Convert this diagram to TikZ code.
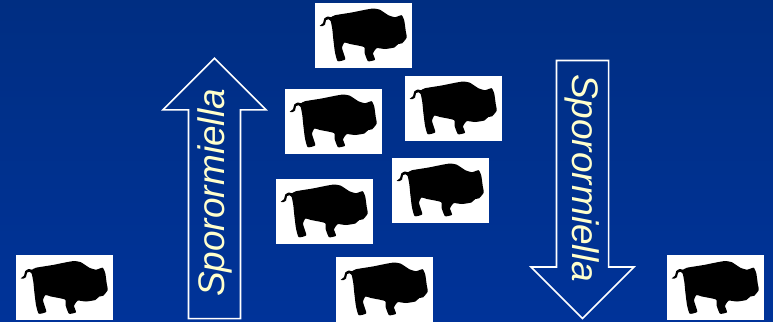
\documentclass[tikz,border=0pt]{standalone}
\usepackage{fontspec}
\setmainfont{Liberation Sans}
\usetikzlibrary{shapes.arrows}
\definecolor{panelTop}{RGB}{0,46,130}
\definecolor{panelBot}{RGB}{0,51,153}
\definecolor{creamtxt}{RGB}{255,255,204}
\newcommand{\bisonshape}{%
  \fill[black,shift={(path picture bounding box.center)}] plot[smooth cycle,tension=0.3] coordinates {
    (-43.8,-9.2) (-40.5,-11.8) (-39.2,-16.5) (-35.8,-18.5) (-32.5,-17.8) (-28.5,-19.8) (-11.8,-22.5) (1.5,-25.2)
    (9.8,-26.5) (16.5,-25.2) (24.8,-19.8) (31.5,-17.8) (38.2,-19.8) (40.8,-14.2) (42.2,-4.2) (43.2,2.5)
    (38.8,8.2) (34.8,9) (30.8,12.5) (21.5,14) (13.5,13) (11.8,14.5) (9.5,18.5) (11.5,24.8)
    (4.5,26.2) (1.2,18.2) (0.5,12) (-13.5,9) (-19,7.5) (-21.5,13) (-18.2,24.2) (-25.8,26.2)
    (-28.5,17.5) (-30.2,4.2) (-31.2,-5.8) (-32.8,-13.8) (-35.2,-15.8) (-37.5,-14.8) (-38.5,-10.5) (-41.2,-8.8)
  };
}
\tikzset{
  panel/.style={rectangle,minimum width=773pt,minimum height=321pt,inner sep=0pt,top color=panelTop,bottom color=panelBot},
  tile/.style={rectangle,fill=white,minimum width=97pt,minimum height=65pt,inner sep=0pt,path picture={\bisonshape}},
  sporarrow/.style={single arrow,draw=white,line width=1.6pt,minimum width=101pt,minimum height=258pt,single arrow head extend=25.5pt,
    inner ysep=8pt,inner xsep=4pt,text=creamtxt,font=\fontsize{37}{40}\selectfont\itshape}
}
\begin{document}
\begin{tikzpicture}[x=1pt,y=-1pt]
  \node[panel] (bg) at (386.5,160.5) {};

  \node[tile] (bisonleft) at (64.5,287.5) {};
  \node[tile] (bisontop) at (363.5,35) {};
  \node[tile] (bisonA) at (333.5,121) {};
  \node[tile] (bisonB) at (453.5,108) {};
  \node[tile] (bisonC) at (440.5,190) {};
  \node[tile] (bisonD) at (324.5,211) {};
  \node[tile] (bisonE) at (384.5,289) {};
  \node[tile] (bisonright) at (715.5,287.5) {};

  \node[sporarrow,rotate=90] (uparrow) at (214.5,201.5) {\hspace{17pt}Sporormiella};
  \node[sporarrow,rotate=-90] (downarrow) at (582.5,176.5) {\hspace{3pt}Sporormiella};
\end{tikzpicture}
\end{document}
